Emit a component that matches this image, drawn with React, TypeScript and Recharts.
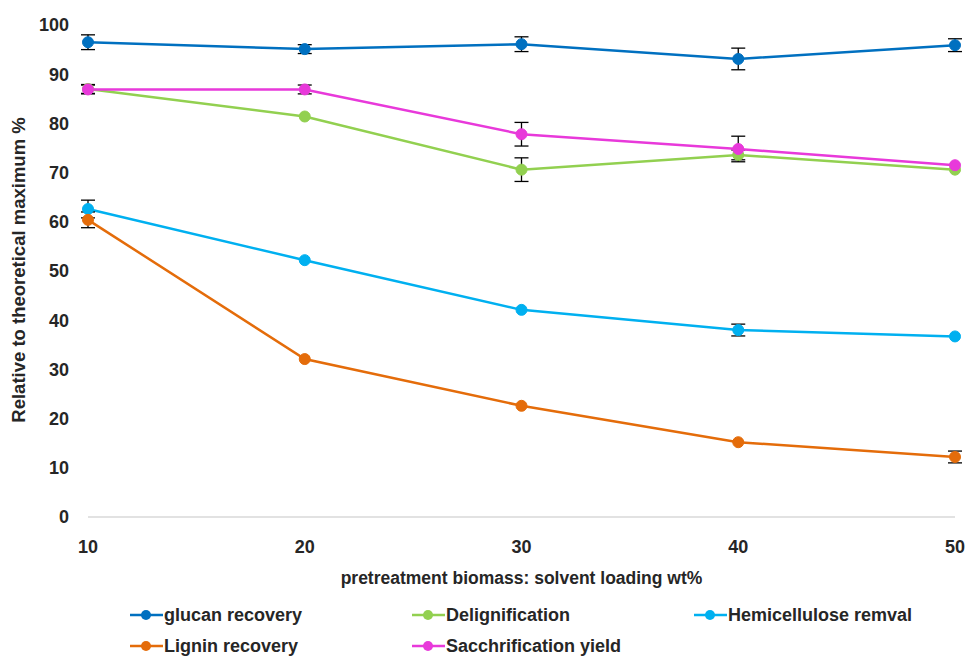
import React from 'react';
import { LineChart, Line, XAxis, YAxis, ErrorBar } from 'recharts';

const loadings = [10, 20, 30, 40, 50];
const glucan = [96.5, 95.1, 96.1, 93.1, 95.9];
const glucanErr = [1.5, 0.9, 1.5, 2.2, 1.3];
const delig = [87.0, 81.4, 70.6, 73.6, 70.6];
const deligErr = [0.9, null, 2.4, 1.0, null];
const hemi = [62.6, 52.2, 42.1, 38.0, 36.7];
const hemiErr = [1.8, null, null, 1.2, null];
const lignin = [60.4, 32.1, 22.6, 15.2, 12.2];
const ligninErr = [1.6, null, null, null, 1.2];
const sacch = [86.9, 86.9, 77.8, 74.8, 71.5];
const sacchErr = [0.9, 0.9, 2.4, 2.6, null];
const yTicks = [0, 10, 20, 30, 40, 50, 60, 70, 80, 90, 100];

const data = loadings.map((x, i) => ({
  x,
  glucan: glucan[i], glucanErr: glucanErr[i],
  delig: delig[i], deligErr: deligErr[i],
  hemi: hemi[i], hemiErr: hemiErr[i],
  lignin: lignin[i], ligninErr: ligninErr[i],
  sacch: sacch[i], sacchErr: sacchErr[i],
}));

const series = [
  { key: 'glucan', name: 'glucan recovery', color: '#0070C0' },
  { key: 'delig', name: 'Delignification', color: '#92D050' },
  { key: 'hemi', name: 'Hemicellulose remval', color: '#00B0F0' },
  { key: 'lignin', name: 'Lignin recovery', color: '#E46C0A' },
  { key: 'sacch', name: 'Sacchrification yield', color: '#E839DA' },
];

const FONT = '"Liberation Sans", Arial, sans-serif';
const textColor = '#262626';

const legendPos = [
  { left: 130, top: 604 },
  { left: 412, top: 604 },
  { left: 694, top: 604 },
  { left: 130, top: 635 },
  { left: 412, top: 635 },
];

export default function App() {
  return (
    <div style={{ position: 'absolute', left: 0, top: 0, width: 971, height: 657, background: '#fff', fontFamily: FONT }}>
      <LineChart width={971} height={657} data={data} margin={{ top: 25, right: 16, bottom: 65, left: 30 }}>
        <XAxis
          dataKey="x"
          type="number"
          domain={[10, 50]}
          ticks={loadings}
          height={75}
          axisLine={{ stroke: '#D9D9D9', strokeWidth: 1.5 }}
          tickLine={false}
          tickSize={0}
          tickMargin={23}
          tick={{ fill: textColor, fontSize: 18, fontWeight: 'bold', fontFamily: FONT }}
          label={({ viewBox }: any) => (
            <text x={viewBox.x + viewBox.width / 2} y={viewBox.y + 67} textAnchor="middle" fill={textColor} fontSize={17.5} fontWeight="bold" fontFamily={FONT}>
              pretreatment biomass: solvent loading wt%
            </text>
          )}
        />
        <YAxis
          type="number"
          domain={[0, 100]}
          ticks={yTicks}
          width={58}
          axisLine={false}
          tickLine={false}
          tickSize={0}
          tickMargin={19}
          tick={{ fill: textColor, fontSize: 18, fontWeight: 'bold', fontFamily: FONT }}
          label={({ viewBox }: any) => (
            <text x={viewBox.x - 10} y={viewBox.y + viewBox.height / 2 - 1} transform={`rotate(-90, ${viewBox.x - 10}, ${viewBox.y + viewBox.height / 2 - 1})`} textAnchor="middle" dominantBaseline="middle" fill={textColor} fontSize={18.5} fontWeight="bold" fontFamily={FONT}>
              Relative to theoretical  maximum %
            </text>
          )}
        />
        {series.map((s) => (
          <Line
            key={s.key}
            dataKey={s.key}
            name={s.name}
            stroke={s.color}
            strokeWidth={2.5}
            dot={{ r: 5.5, fill: s.color, stroke: s.color, strokeWidth: 1 }}
            activeDot={false}
            isAnimationActive={false}
          >
            <ErrorBar dataKey={`${s.key}Err`} width={7} stroke="#000" strokeWidth={1.3} direction="y" />
          </Line>
        ))}
      </LineChart>
      {series.map((s, i) => (
        <div key={s.key} style={{ position: 'absolute', left: legendPos[i].left, top: legendPos[i].top, display: 'flex', alignItems: 'center', height: 22 }}>
          <svg width={33} height={14} style={{ display: 'block' }}>
            <line x1={0} y1={7} x2={33} y2={7} stroke={s.color} strokeWidth={2.5} />
            <circle cx={16} cy={7} r={5} fill={s.color} />
          </svg>
          <span style={{ marginLeft: 1, fontSize: 18, fontWeight: 'bold', color: textColor, fontFamily: FONT, whiteSpace: 'nowrap' }}>{s.name}</span>
        </div>
      ))}
    </div>
  );
}
